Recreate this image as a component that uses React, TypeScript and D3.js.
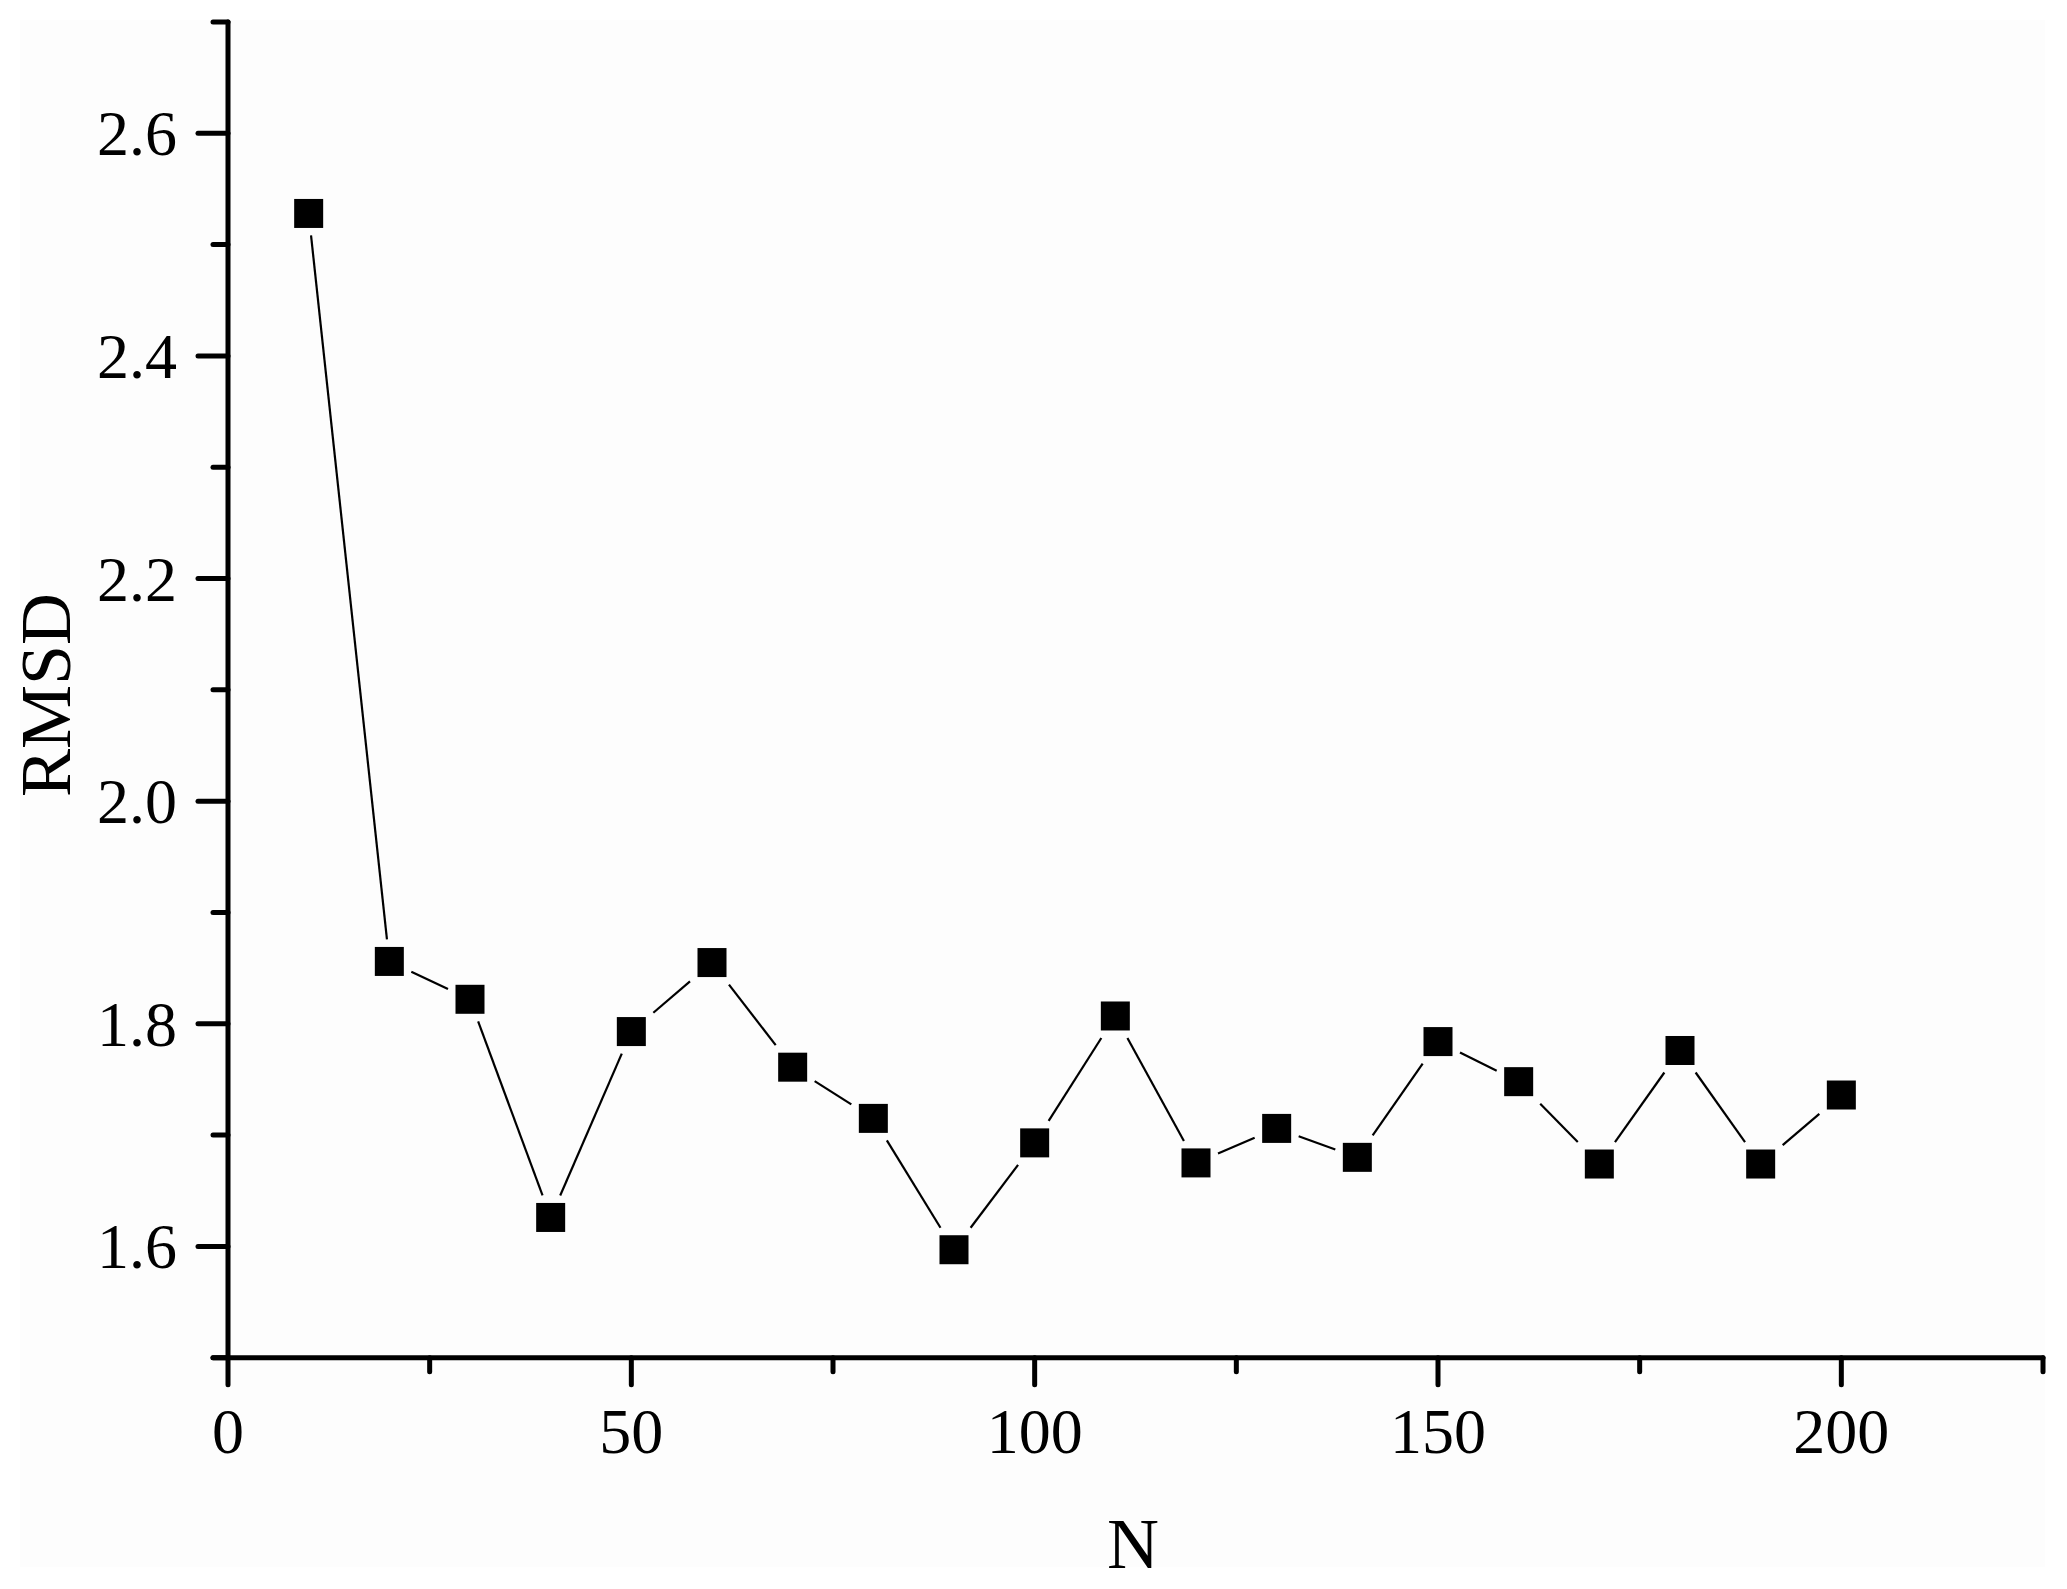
import React from "react";
import * as d3 from "d3";

const nValues = [10, 20, 30, 40, 50, 60, 70, 80, 90, 100, 110, 120, 130, 140, 150, 160, 170, 180, 190, 200];
const rmsdValues = [2.528, 1.856, 1.822, 1.626, 1.793, 1.855, 1.761, 1.715, 1.597, 1.693, 1.807, 1.675, 1.706, 1.68, 1.784, 1.748, 1.674, 1.776, 1.674, 1.736];
const xMajorTicks = [0, 50, 100, 150, 200];
const xMinorTicks = [25, 75, 125, 175, 225];
const yMajorTicks = [1.6, 1.8, 2.0, 2.2, 2.4, 2.6];
const yMinorTicks = [1.5, 1.7, 1.9, 2.1, 2.3, 2.5, 2.7];
const xTitle = "N";
const yTitle = "RMSD";

const W = 2067;
const H = 1589;
const FONT = "'Liberation Serif', 'Times New Roman', Times, serif";

export default function App() {
  const x = d3.scaleLinear().domain([0, 225]).range([228, 2043]);
  const y = d3.scaleLinear().domain([1.5, 2.7]).range([1357.7, 22]);
  const pts = nValues.map((n, i) => [x(n), y(rmsdValues[i])] as [number, number]);
  const half = 14.5;
  const clip = 22;

  const segs: [number, number, number, number][] = [];
  for (let i = 0; i < pts.length - 1; i++) {
    const [x0, y0] = pts[i];
    const [x1, y1] = pts[i + 1];
    const dx = x1 - x0;
    const dy = y1 - y0;
    const t = Math.min(clip / Math.abs(dx || 1e-9), clip / Math.abs(dy || 1e-9));
    if (t >= 0.5) continue;
    segs.push([x0 + dx * t, y0 + dy * t, x1 - dx * t, y1 - dy * t]);
  }
  const line = d3.line();

  const axisY = y(1.5);
  const axisX = x(0);

  return (
    <div style={{ position: "absolute", left: 0, top: 0 }}>
      <svg width={W} height={H} style={{ display: "block", background: "#ffffff" }}>
        <rect x={20} y={20} width={2025} height={1547} fill="#fdfdfd" />
        {segs.map((s, i) => (
          <path key={i} d={line([[s[0], s[1]], [s[2], s[3]]]) || ""} stroke="#000" strokeWidth={2.2} fill="none" />
        ))}
        {pts.map((p, i) => (
          <rect key={i} x={p[0] - half} y={p[1] - half} width={half * 2} height={half * 2} fill="#000" />
        ))}
        {/* axes */}
        <line x1={axisX} y1={y(2.7)} x2={axisX} y2={axisY} stroke="#000" strokeWidth={5} strokeLinecap="round" />
        <line x1={axisX - 15} y1={axisY} x2={x(225)} y2={axisY} stroke="#000" strokeWidth={5} strokeLinecap="round" />
        {xMajorTicks.map((t) => (
          <line key={"xM" + t} x1={x(t)} x2={x(t)} y1={axisY} y2={axisY + 27} stroke="#000" strokeWidth={5} strokeLinecap="round" />
        ))}
        {xMinorTicks.map((t) => (
          <line key={"xm" + t} x1={x(t)} x2={x(t)} y1={axisY} y2={axisY + 14} stroke="#000" strokeWidth={5} strokeLinecap="round" />
        ))}
        {yMajorTicks.map((t) => (
          <line key={"yM" + t} x1={axisX} x2={axisX - 30} y1={y(t)} y2={y(t)} stroke="#000" strokeWidth={5} strokeLinecap="round" />
        ))}
        {yMinorTicks.map((t) => (
          <line key={"ym" + t} x1={axisX} x2={axisX - 15} y1={y(t)} y2={y(t)} stroke="#000" strokeWidth={5} strokeLinecap="round" />
        ))}
        {xMajorTicks.map((t) => (
          <text key={"xl" + t} x={x(t)} y={1453} textAnchor="middle" fontFamily={FONT} fontSize={64} fill="#000">
            {String(t)}
          </text>
        ))}
        {yMajorTicks.map((t) => (
          <text key={"yl" + t} x={177} y={y(t) + 22} textAnchor="end" fontFamily={FONT} fontSize={64} fill="#000">
            {d3.format(".1f")(t)}
          </text>
        ))}
        <text x={1133} y={1568} textAnchor="middle" fontFamily={FONT} fontSize={72} fill="#000">
          {xTitle}
        </text>
        <text transform={`translate(70, 695) rotate(-90)`} textAnchor="middle" fontFamily={FONT} fontSize={72} fill="#000">
          {yTitle}
        </text>
      </svg>
    </div>
  );
}
